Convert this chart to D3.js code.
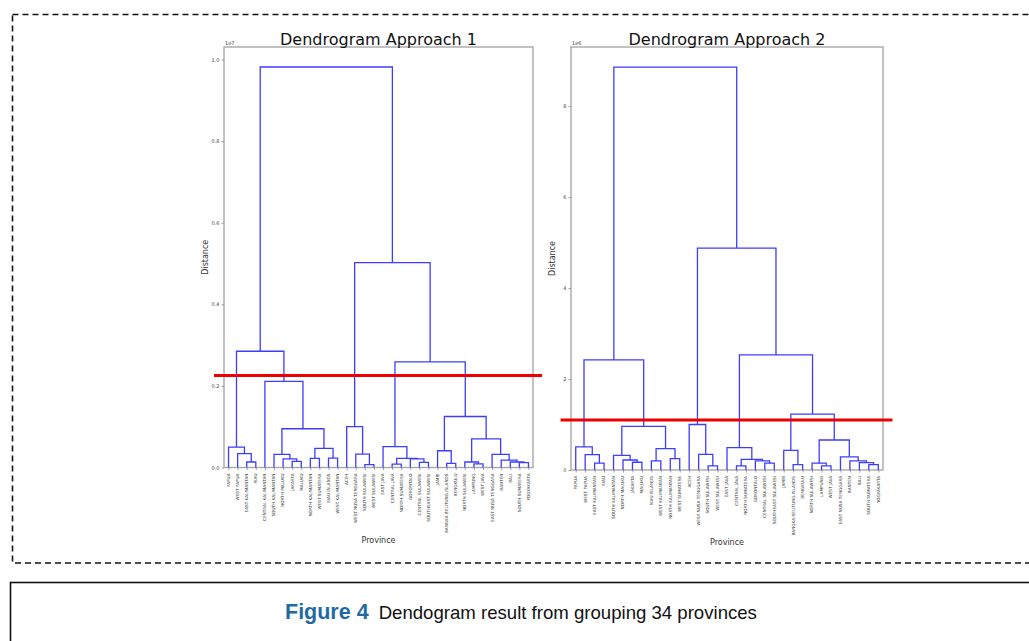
<!DOCTYPE html>
<html>
<head>
<meta charset="utf-8">
<script src="https://cdn.jsdelivr.net/npm/d3@7"></script>
<style>
  html, body { margin: 0; padding: 0; background: #fff; }
  svg { display: block; }
</style>
</head>
<body>
<svg id="fig" width="1029" height="641"></svg>
<script>
// Leaf order (left to right) and linkage for each approach.
// Linkage rows: [childA, childB, distance]; ids < n are leaves, id n+k is row k.
const leaves1 = ["PAPUA","WEST PAPUA","EAST KALIMANTAN","RIAU","CENTRAL KALIMANTAN","SOUTH KALIMANTAN",
  "NORTH MALUKU","JAKARTA","MALUKU","NORTH KALIMANTAN","WEST SUMATERA","RIAU ISLANDS","WEST KALIMANTAN",
  "ACEH","WEST NUSA TENGGARA","SOUTH SULAWESI","WEST SULAWESI","EAST JAVA","CENTRAL JAVA","NORTH SUMATERA",
  "GORONTALO","CENTRAL SULAWESI","SOUTHEAST SULAWESI","JAMBI","BANGKA BELITUNG ISLANDS","BENGKULU",
  "NORTH SULAWESI","LAMPUNG","WEST JAVA","EAST NUSA TENGGARA","BANTEN","BALI","SOUTH SUMATERA","YOGYAKARTA"];

const linkage1 = [
  [2, 3, 135000], [1, 34, 340000], [0, 35, 500000],
  [7, 8, 150000], [6, 37, 210000], [5, 38, 320000],
  [9, 10, 225000], [11, 12, 230000], [40, 41, 470000],
  [39, 42, 950000], [4, 43, 2110000], [36, 44, 2850000],
  [15, 16, 70000], [14, 46, 330000], [13, 47, 1000000],
  [18, 19, 85000], [21, 22, 127000], [20, 50, 210000], [49, 51, 225000], [17, 52, 510000],
  [24, 25, 103000], [23, 54, 410000],
  [27, 28, 87000], [26, 56, 135000],
  [32, 33, 120000], [31, 58, 135000], [30, 59, 180000], [29, 60, 320000],
  [57, 61, 700000], [55, 62, 1250000], [53, 63, 2590000],
  [48, 64, 5020000], [45, 65, 9816000]
];

const leaves2 = ["PAPUA","WEST PAPUA","EAST KALIMANTAN","RIAU","SOUTH KALIMANTAN","NORTH MALUKU",
  "JAKARTA","MALUKU","RIAU ISLANDS","WEST KALIMANTAN","NORTH KALIMANTAN","WEST SUMATERA","ACEH",
  "WEST NUSA TENGGARA","SOUTH SULAWESI","WEST SULAWESI","EAST JAVA","CENTRAL JAVA","NORTH SUMATERA",
  "GORONTALO","CENTRAL SULAWESI","SOUTHEAST SULAWESI","JAMBI","BANGKA BELITUNG ISLANDS","BENGKULU",
  "NORTH SULAWESI","LAMPUNG","WEST JAVA","EAST NUSA TENGGARA","BANTEN","BALI","SOUTH SUMATERA","YOGYAKARTA"];

const linkage2 = [
  [2, 3, 150000], [1, 33, 340000], [0, 34, 510000],
  [6, 7, 170000], [5, 36, 220000], [4, 37, 320000],
  [8, 9, 200000], [10, 11, 250000], [39, 40, 470000],
  [38, 41, 960000], [35, 42, 2420000],
  [14, 15, 90000], [13, 44, 345000], [12, 45, 1000000],
  [17, 18, 90000], [20, 21, 150000], [19, 48, 200000], [47, 49, 235000], [16, 50, 490000],
  [23, 24, 120000], [22, 52, 430000],
  [26, 27, 90000], [25, 54, 150000],
  [31, 32, 120000], [30, 56, 160000], [29, 57, 200000], [28, 58, 290000],
  [55, 59, 660000], [53, 60, 1230000], [51, 61, 2530000],
  [46, 62, 4880000], [43, 63, 8857000]
];

// Cut-off distances drawn as red lines
const cut1 = 2255000;
const cut2 = 1100000;

// Axis ticks (in offset units) and offsets
const yTicks1 = [0.0, 0.2, 0.4, 0.6, 0.8, 1.0];
const yTicks2 = [0, 2, 4, 6, 8];
const offset1 = 1e7, offset2 = 1e6;

const titles = ["Dendrogram Approach 1", "Dendrogram Approach 2"];
const captionLabel = "Figure 4";
const captionText = "Dendogram result from grouping 34 provinces";

const svg = d3.select("#fig");

// Dashed frame around the figure
svg.append("rect")
  .attr("x", 12.5).attr("y", 14.5).attr("width", 1040).attr("height", 548.5)
  .attr("fill", "none").attr("stroke", "#111").attr("stroke-width", 1.6)
  .attr("stroke-dasharray", "6,4");

// Caption box
svg.append("rect")
  .attr("x", 10.5).attr("y", 582.5).attr("width", 1040).attr("height", 70)
  .attr("fill", "none").attr("stroke", "#111").attr("stroke-width", 1.6);

const cap = svg.append("text")
  .attr("x", 285).attr("y", 619)
  .attr("font-family", "Liberation Sans, Arial, sans-serif");
cap.append("tspan").text(captionLabel)
  .attr("font-weight", "bold").attr("font-size", 21.5).attr("fill", "#1f6aa5");
cap.append("tspan").text(captionText)
  .attr("dx", 10).attr("font-size", 18.6).attr("fill", "#111");

const panels = [
  { leaves: leaves1, linkage: linkage1, cut: cut1, ticks: yTicks1, offset: offset1,
    offsetLabel: "1e7", fmt: d3.format(".1f"), title: titles[0],
    left: 224, right: 533, top: 47, bottom: 467.5 },
  { leaves: leaves2, linkage: linkage2, cut: cut2, ticks: yTicks2, offset: offset2,
    offsetLabel: "1e6", fmt: d3.format("d"), title: titles[1],
    left: 571, right: 883, top: 47, bottom: 470 }
];

panels.forEach(p => {
  const n = p.leaves.length;
  const maxH = d3.max(p.linkage, r => r[2]);

  const x = d3.scaleLinear().domain([0, n * 10]).range([p.left, p.right]);
  const y = d3.scaleLinear().domain([0, maxH * 1.05]).range([p.bottom, p.top]);

  // node positions: leaves at 5, 15, 25, ...
  const pos = p.leaves.map((_, i) => ({ x: 5 + 10 * i, h: 0 }));
  const segs = [];
  p.linkage.forEach(([a, b, d]) => {
    const A = pos[a], B = pos[b];
    segs.push([[A.x, A.h], [A.x, d], [B.x, d], [B.x, B.h]]);
    pos.push({ x: (A.x + B.x) / 2, h: d });
  });

  const g = svg.append("g");

  // Frame (spines)
  g.append("rect")
    .attr("x", p.left).attr("y", p.top)
    .attr("width", p.right - p.left).attr("height", p.bottom - p.top)
    .attr("fill", "none").attr("stroke", "#a8a8a8").attr("stroke-width", 1.4);

  // Links
  const line = d3.line().x(d => x(d[0])).y(d => y(d[1]));
  g.selectAll("path.link").data(segs).join("path")
    .attr("class", "link")
    .attr("d", line)
    .attr("fill", "none").attr("stroke", "#3d3dff").attr("stroke-width", 1.3);

  // Y axis
  const yAxis = d3.axisLeft(y)
    .tickValues(p.ticks.map(t => t * p.offset))
    .tickFormat(v => p.fmt(v / p.offset))
    .tickSize(2.5).tickPadding(2);
  const ya = g.append("g").attr("transform", `translate(${p.left},0)`).call(yAxis);
  ya.select(".domain").remove();
  ya.selectAll("line").attr("stroke", "#888").attr("stroke-width", 0.8);
  ya.selectAll("text").attr("font-size", 5).attr("fill", "#444")
    .attr("font-family", "DejaVu Sans, sans-serif");

  g.append("text").text(p.offsetLabel)
    .attr("x", p.left + 1).attr("y", p.top - 2.5)
    .attr("font-size", 5).attr("fill", "#444")
    .attr("font-family", "DejaVu Sans, sans-serif");

  // X axis: leaf ticks and rotated labels
  const xAxis = d3.axisBottom(x)
    .tickValues(p.leaves.map((_, i) => 5 + 10 * i))
    .tickFormat("").tickSize(2.5);
  const xa = g.append("g").attr("transform", `translate(0,${p.bottom})`).call(xAxis);
  xa.select(".domain").remove();
  xa.selectAll("line").attr("stroke", "#888").attr("stroke-width", 0.8);

  g.selectAll("text.leaf").data(p.leaves).join("text")
    .attr("class", "leaf")
    .attr("transform", (d, i) => `translate(${x(5 + 10 * i) + 1.4},${p.bottom + 6}) rotate(-90)`)
    .attr("text-anchor", "end")
    .attr("font-size", 4.2).attr("fill", "#333")
    .attr("font-family", "DejaVu Sans, sans-serif")
    .text(d => d);

  // Titles and axis labels
  const cx = (p.left + p.right) / 2;
  g.append("text").text(p.title)
    .attr("x", cx).attr("y", p.top - 2).attr("text-anchor", "middle")
    .attr("font-size", 16).attr("fill", "#111")
    .attr("font-family", "DejaVu Sans, sans-serif");

  g.append("text").text("Province")
    .attr("x", cx).attr("y", p.bottom + 75).attr("text-anchor", "middle")
    .attr("font-size", 8).attr("fill", "#333")
    .attr("font-family", "DejaVu Sans, sans-serif");

  g.append("text").text("Distance")
    .attr("transform", `translate(${p.left - 16},${(p.top + p.bottom) / 2}) rotate(-90)`)
    .attr("text-anchor", "middle")
    .attr("font-size", 8).attr("fill", "#333")
    .attr("font-family", "DejaVu Sans, sans-serif");

  // Cut-off line
  g.append("line")
    .attr("x1", x(-11)).attr("x2", x(n * 10 + 10))
    .attr("y1", y(p.cut)).attr("y2", y(p.cut))
    .attr("stroke", "#ee0000").attr("stroke-width", 3);
});
</script>
</body>
</html>
